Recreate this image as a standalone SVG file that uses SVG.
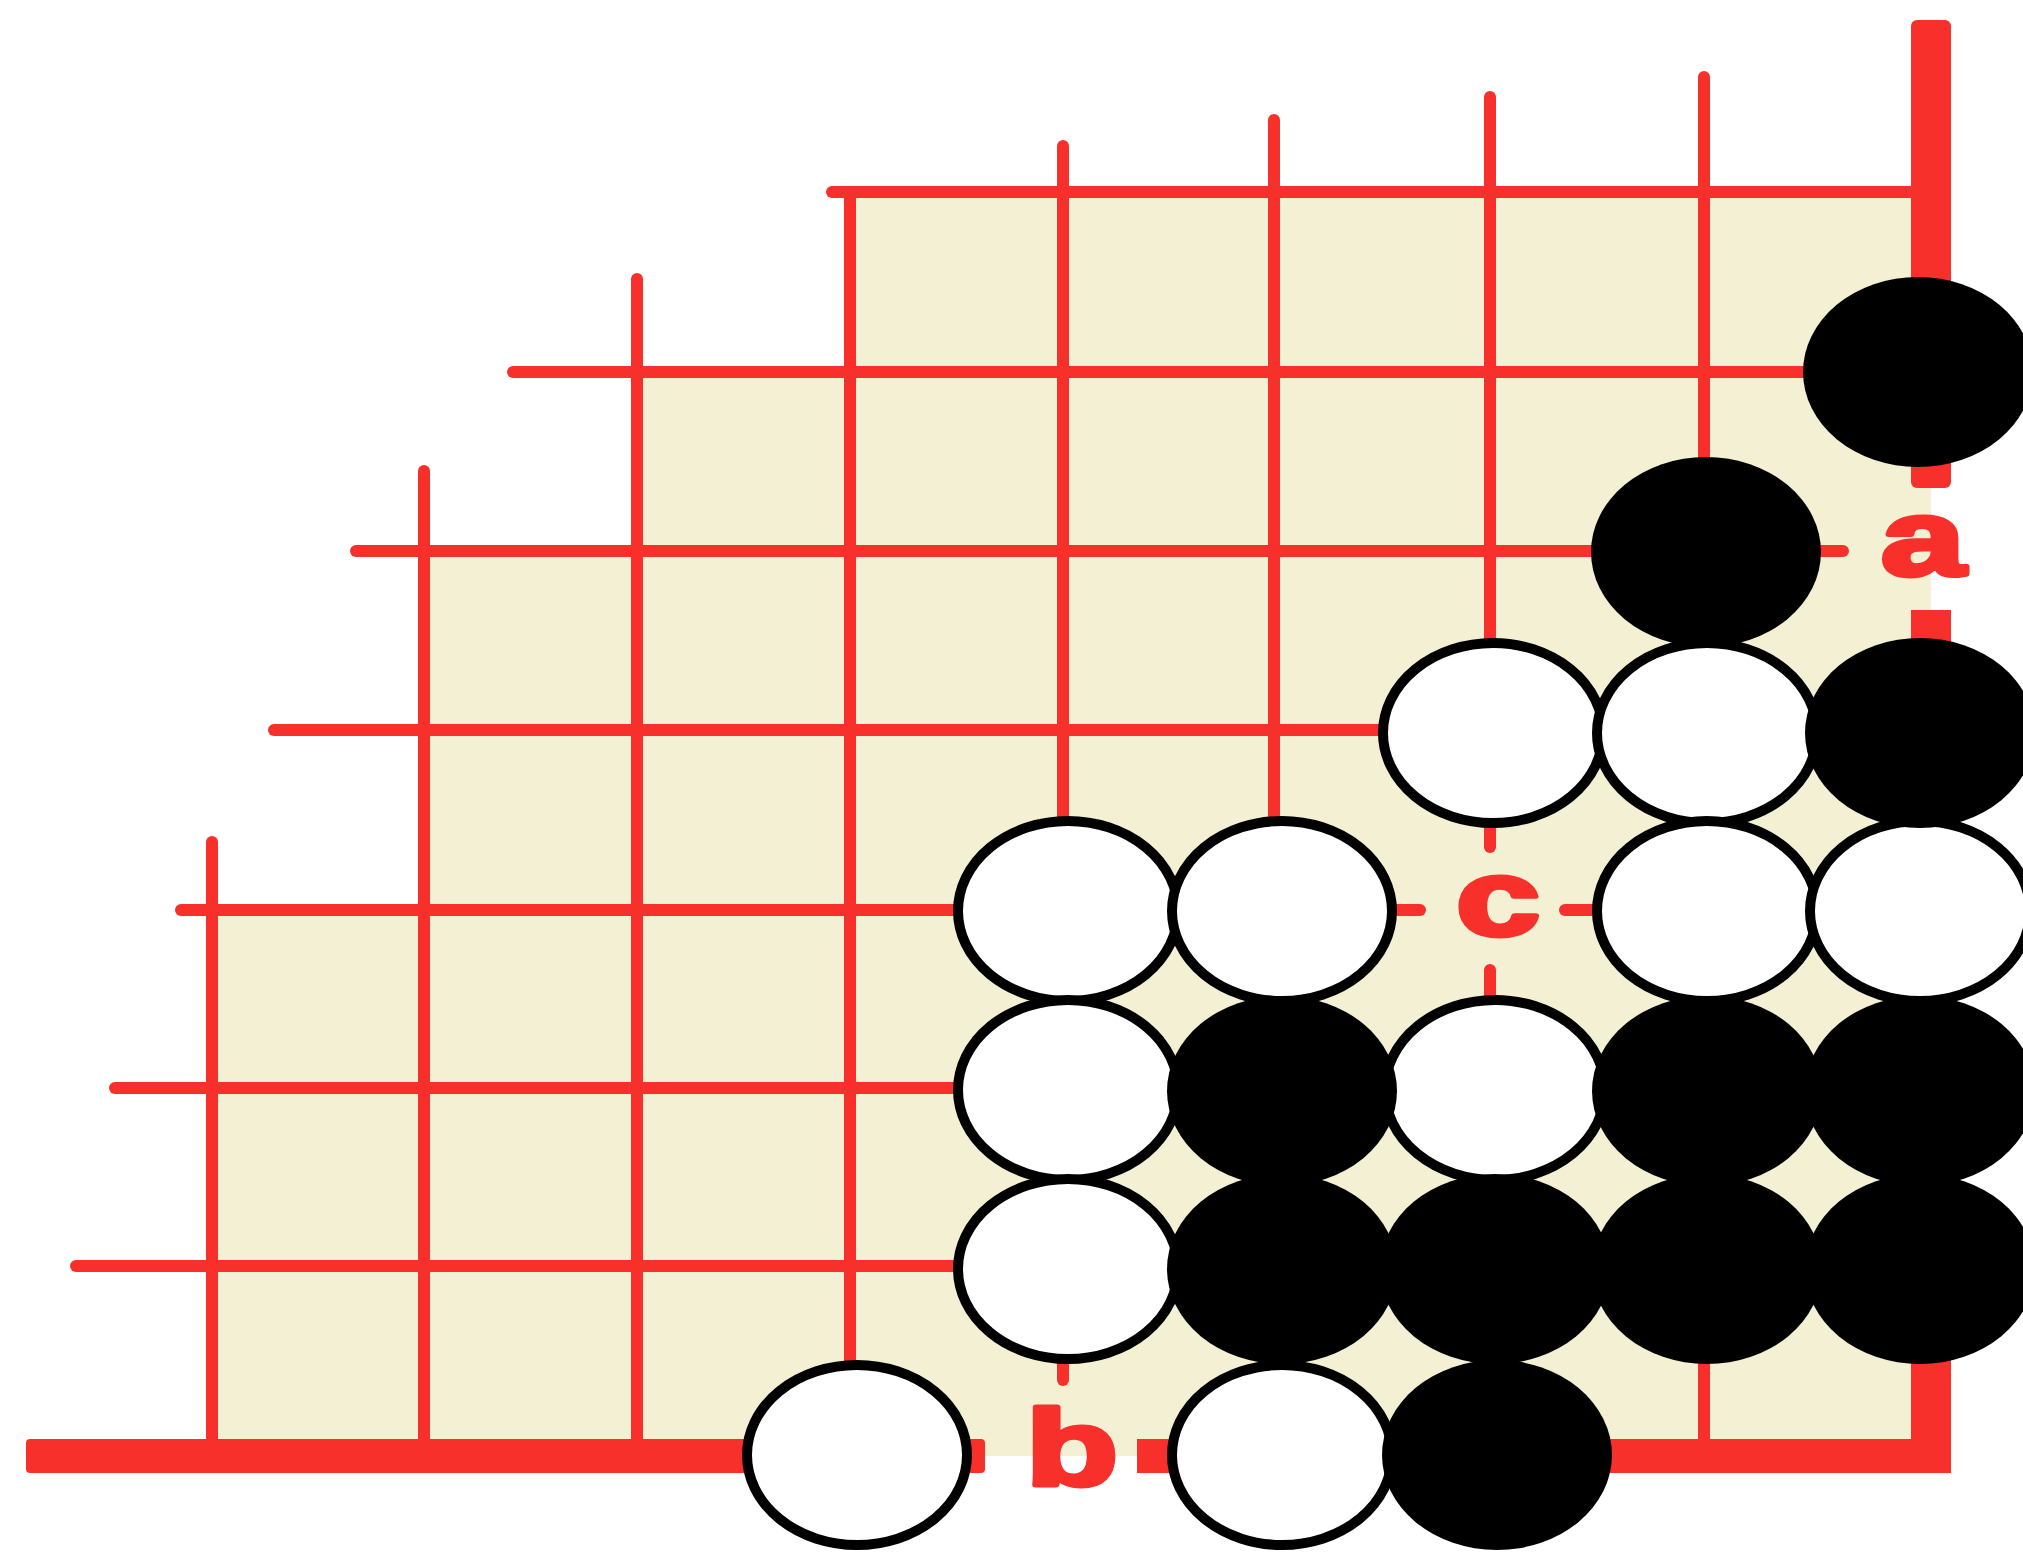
<svg xmlns="http://www.w3.org/2000/svg" width="2023" height="1562" viewBox="0 0 2023 1562">
<style>
.g{stroke:#f7302c;stroke-width:12;stroke-linecap:round;fill:none}
.edge{fill:#f7302c}
.w{fill:#ffffff;stroke:#000;stroke-width:10}
.b{fill:#000}
.lbl{font-family:"Liberation Sans",Arial,sans-serif;font-weight:bold;font-size:108px;fill:#f7302c;stroke:#f7302c;stroke-width:5;stroke-linejoin:round;text-anchor:middle}
</style>
<rect x="0" y="0" width="2023" height="1562" fill="#ffffff"/>
<g id="board">
<polygon points="212,1456 212,910 424,910 424,551 637,551 637,372 850,372 850,192 1931,192 1931,1456" fill="#f3f0d4"/>
</g>
<g id="grid">
<line class="g" x1="832" y1="192" x2="1931" y2="192"/>
<line class="g" x1="513" y1="372" x2="1931" y2="372"/>
<line class="g" x1="356" y1="551" x2="1843" y2="551"/>
<line class="g" x1="274" y1="730" x2="1931" y2="730"/>
<line class="g" x1="181" y1="910" x2="1420" y2="910"/>
<line class="g" x1="1565" y1="910" x2="1931" y2="910"/>
<line class="g" x1="115" y1="1088" x2="1931" y2="1088"/>
<line class="g" x1="76" y1="1266" x2="1931" y2="1266"/>
<line class="g" x1="212" y1="842" x2="212" y2="1456"/>
<line class="g" x1="424" y1="471" x2="424" y2="1456"/>
<line class="g" x1="637" y1="279" x2="637" y2="1456"/>
<line class="g" x1="850" y1="192" x2="850" y2="1456"/>
<line class="g" x1="1063" y1="146" x2="1063" y2="1380"/>
<line class="g" x1="1274" y1="120" x2="1274" y2="1456"/>
<line class="g" x1="1490" y1="97" x2="1490" y2="847"/>
<line class="g" x1="1490" y1="970" x2="1490" y2="1456"/>
<line class="g" x1="1704" y1="77" x2="1704" y2="1456"/>
<rect class="edge" x="1911" y="20" width="40" height="468" rx="6"/>
<rect class="edge" x="1911" y="610" width="40" height="863"/>
<rect class="edge" x="26" y="1439" width="959" height="34" rx="4"/>
<rect class="edge" x="1137" y="1439" width="814" height="34"/>
</g>
<g id="white-stones">
<g id="w-c6r3"><ellipse class="w" cx="1493" cy="733" rx="110" ry="90"/></g>
<g id="w-c7r3"><ellipse class="w" cx="1707" cy="733" rx="110" ry="90"/></g>
<g id="w-c4r4"><ellipse class="w" cx="1068" cy="911" rx="110" ry="90"/></g>
<g id="w-c5r4"><ellipse class="w" cx="1282" cy="911" rx="110" ry="90"/></g>
<g id="w-c7r4"><ellipse class="w" cx="1707" cy="911" rx="110" ry="90"/></g>
<g id="w-c8r4"><ellipse class="w" cx="1920" cy="911" rx="110" ry="90"/></g>
<g id="w-c4r5"><ellipse class="w" cx="1068" cy="1090" rx="110" ry="90"/></g>
<g id="w-c6r5"><ellipse class="w" cx="1495" cy="1090" rx="110" ry="90"/></g>
<g id="w-c4r6"><ellipse class="w" cx="1068" cy="1269" rx="110" ry="90"/></g>
<g id="w-c3r7"><ellipse class="w" cx="857" cy="1455" rx="110" ry="90"/></g>
<g id="w-c5r7"><ellipse class="w" cx="1282" cy="1455" rx="110" ry="90"/></g>
</g>
<g id="black-stones">
<g id="b-c8r1"><ellipse class="b" cx="1918" cy="372" rx="115" ry="95"/></g>
<g id="b-c7r2"><ellipse class="b" cx="1706" cy="552" rx="115" ry="95"/></g>
<g id="b-c8r3"><ellipse class="b" cx="1920" cy="733" rx="115" ry="95"/></g>
<g id="b-c5r5"><ellipse class="b" cx="1282" cy="1091" rx="115" ry="95"/></g>
<g id="b-c7r5"><ellipse class="b" cx="1707" cy="1091" rx="115" ry="95"/></g>
<g id="b-c8r5"><ellipse class="b" cx="1920" cy="1091" rx="115" ry="95"/></g>
<g id="b-c5r6"><ellipse class="b" cx="1282" cy="1269" rx="115" ry="95"/></g>
<g id="b-c6r6"><ellipse class="b" cx="1495" cy="1269" rx="115" ry="95"/></g>
<g id="b-c7r6"><ellipse class="b" cx="1707" cy="1269" rx="115" ry="95"/></g>
<g id="b-c8r6"><ellipse class="b" cx="1920" cy="1269" rx="115" ry="95"/></g>
<g id="b-c6r7"><ellipse class="b" cx="1497" cy="1455" rx="115" ry="95"/></g>
</g>
<g id="labels">
<g id="label-a"><text class="lbl" transform="translate(1923,575) scale(1.4,1)">a</text></g>
<g id="label-c"><text class="lbl" transform="translate(1498,935) scale(1.4,1)">c</text></g>
<g id="label-b"><text class="lbl" transform="translate(1072,1485) scale(1.4,1)">b</text></g>
</g>
</svg>
